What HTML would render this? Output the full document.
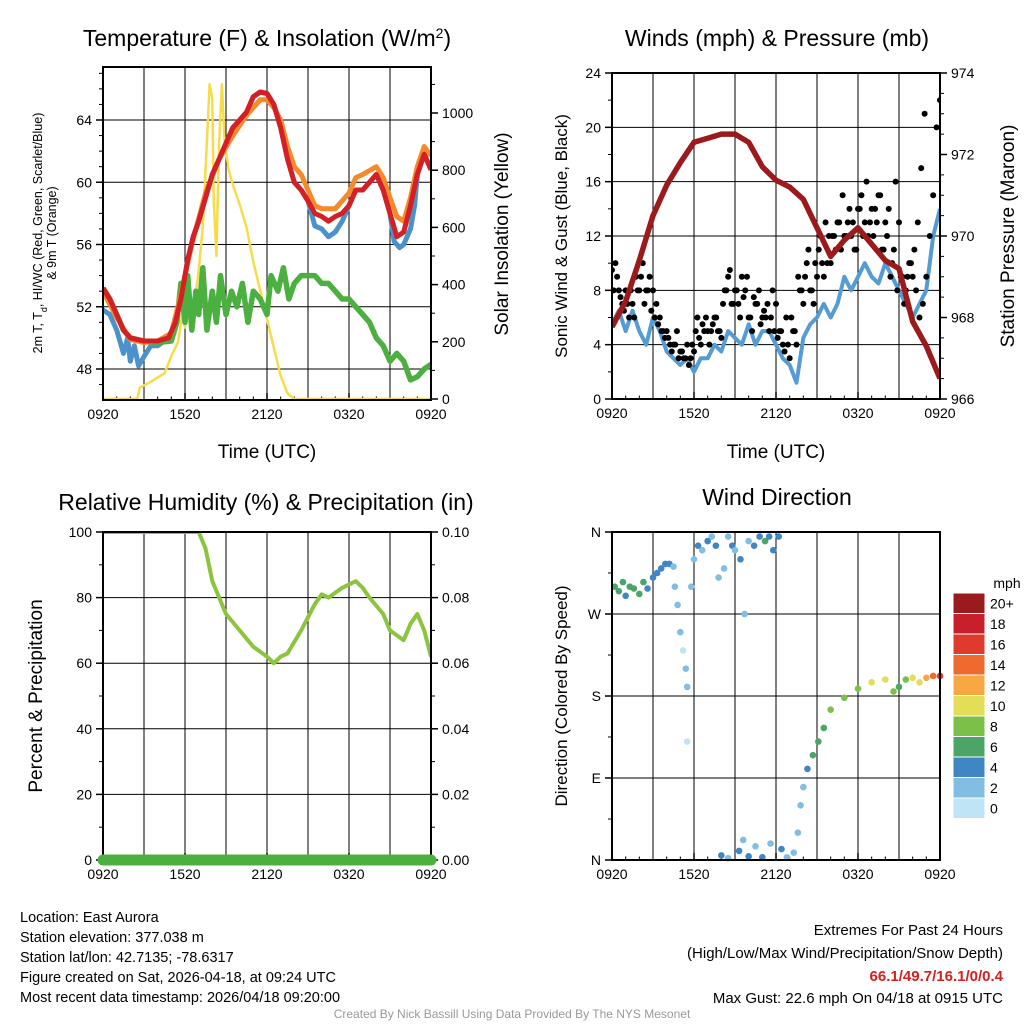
<!DOCTYPE html>
<html><head><meta charset="utf-8">
<style>
body{margin:0;background:#fff;}
svg{display:block;font-family:"Liberation Sans",Arial,sans-serif;}
</style></head>
<body>
<svg id="fig" width="1024" height="1024" viewBox="0 0 1024 1024" xmlns="http://www.w3.org/2000/svg">
<rect width="1024" height="1024" fill="#fff"/>
<text x="267" y="46" font-size="23" text-anchor="middle">Temperature (F) &amp; Insolation (W/m<tspan baseline-shift="super" font-size="14">2</tspan>)</text>
<text x="777" y="46" font-size="23" text-anchor="middle">Winds (mph) &amp; Pressure (mb)</text>
<text x="266" y="510" font-size="23" text-anchor="middle">Relative Humidity (%) &amp; Precipitation (in)</text>
<text x="777" y="505" font-size="23" text-anchor="middle">Wind Direction</text>
<text transform="translate(42,233) rotate(-90)" font-size="12.5" text-anchor="middle">2m T, T<tspan baseline-shift="sub" font-size="9">d</tspan>, HI/WC (Red, Green, Scarlet/Blue)</text>
<text transform="translate(56,233) rotate(-90)" font-size="12.5" text-anchor="middle">&amp; 9m T (Orange)</text>
<text transform="translate(508,234) rotate(-90)" font-size="19" text-anchor="middle">Solar Insolation (Yellow)</text>
<text x="267" y="458" font-size="19" text-anchor="middle">Time (UTC)</text>
<text transform="translate(567,236) rotate(-90)" font-size="17" text-anchor="middle">Sonic Wind &amp; Gust (Blue, Black)</text>
<text transform="translate(1014,236) rotate(-90)" font-size="19" text-anchor="middle">Station Pressure (Maroon)</text>
<text x="776" y="458" font-size="19" text-anchor="middle">Time (UTC)</text>
<text transform="translate(42,696) rotate(-90)" font-size="19" text-anchor="middle">Percent &amp; Precipitation</text>
<text transform="translate(567,696) rotate(-90)" font-size="17" text-anchor="middle">Direction (Colored By Speed)</text>
<text x="1007" y="588" font-size="14" text-anchor="middle">mph</text>
<g font-size="14.5">
<text x="20" y="922">Location: East Aurora</text>
<text x="20" y="942">Station elevation: 377.038 m</text>
<text x="20" y="962">Station lat/lon: 42.7135; -78.6317</text>
<text x="20" y="982">Figure created on Sat, 2026-04-18, at 09:24 UTC</text>
<text x="20" y="1002">Most recent data timestamp: 2026/04/18 09:20:00</text>
</g>
<g font-size="15" text-anchor="end">
<text x="1003" y="935">Extremes For Past 24 Hours</text>
<text x="1003" y="958">(High/Low/Max Wind/Precipitation/Snow Depth)</text>
<text x="1003" y="981" fill="#d42020" font-weight="bold">66.1/49.7/16.1/0/0.4</text>
<text x="1003" y="1003">Max Gust: 22.6 mph On 04/18 at 0915 UTC</text>
</g>
<text x="512" y="1018" font-size="12" fill="#999" text-anchor="middle">Created By Nick Bassill Using Data Provided By The NYS Mesonet</text>
</svg>
<script>
const xTickLabels = ["0920","1520","2120","0320","0920"];
const tempTicks = [48,52,56,60,64];
const solarTicks = [0,200,400,600,800,1000];
const windTicks = [0,4,8,12,16,20,24];
const presTicks = [966,968,970,972,974];
const rhTicks = [0,20,40,60,80,100];
const precipTicks = ["0.00","0.02","0.04","0.06","0.08","0.10"];
const dirTickLabels = ["N","E","S","W","N"];
const speedBinLabels = ["0","2","4","6","8","10","12","14","16","18","20+"];
const speedBinColors = ["#bfe4f6","#82bde3","#3f86c2","#4aa566","#7cc04a","#e3dd58","#f8a843","#ee6a2e","#df3a2c","#c7202a","#991b1d"];

const redT = [0,0.5,1,1.5,2,3,4,4.8,5.3,5.7,6.2,6.6,7,7.5,8,8.5,9,9.5,10,10.5,11,11.5,12,12.5,13,13.5,14,14.5,15,15.5,16,16.5,17,17.5,18,18.5,19,19.5,20,20.5,21,21.5,22,22.5,23,23.5,24];
const redV = [53.2,52.5,51.5,50.5,50,49.8,49.8,50,51,52.5,55,56.5,57.5,59,60.5,61.5,62.5,63.5,64,64.5,65.5,65.8,65.7,65,63.5,61.5,60,59.5,58.8,58,57.8,57.5,57.8,58,58.5,59.5,59.5,60,60.5,59.5,58,56.5,56.8,58.5,60.5,61.8,60.8];
const orangeT = [0,1,2,3,4,5,5.7,6.5,7.5,8.5,9.5,10.5,11.5,12,12.5,13,13.5,14,14.5,15,15.5,16,17,18,18.5,19,20,20.5,21,21.5,22,22.5,23,23.5,24];
const orangeV = [53,51.3,49.9,49.7,49.8,50.3,52.8,56,59.3,61.5,63,64.3,65.3,65.3,64.8,64,62.3,61,60.5,59.5,58.5,58.3,58.3,59.3,60.3,60.5,61,60.3,59,57.8,57.5,59,61,62.3,61.7];
const blueT = [0,0.5,1,1.5,1.8,2,2.3,2.6,3,3.5,4,4.5,4.8,5.3,5.7,6.2,6.6,7,7.5,8,8.5,9,9.5,10,10.5,11,11.5,12,12.5,13,13.5,14,14.5,15,15.5,16,16.5,17,17.5,18,18.5,19,19.5,20,20.5,21,21.3,21.7,22,22.5,22.8,23,23.5,24];
const blueV = [51.8,51.5,50.5,49,50,48.5,49.5,48.2,48.8,49.5,49.5,49.8,50,51,52.5,55,56.5,57.5,59,60.5,61.5,62.5,63.5,64,64.5,65.5,65.8,65.7,65,63.5,61.5,60,59.5,58.8,57.2,57,56.5,56.8,57.5,58.5,59.5,59.5,60,60.5,59.5,58,56.2,55.8,56,57,58.5,60.5,61.8,60.8];
const dewT = [0,0.5,1,1.5,2,3,4,5,5.4,5.7,6,6.2,6.5,6.8,7,7.3,7.6,8,8.3,8.6,9,9.4,9.8,10.2,10.6,11,11.5,12,12.3,12.8,13.2,13.6,14,14.5,15,15.5,16,16.5,17,17.5,18,18.5,19,19.5,20,20.5,21,21.5,22,22.5,23,23.5,24];
const dewV = [53.2,52.5,51.5,50.5,50,49.8,49.7,49.8,51,53.5,51,54,50.5,53,51.5,54.5,50.5,53,51,54,51.5,53,52,53.5,51,53,52.5,51.5,54,53,54.5,52.5,53.5,54,54,54,53.5,53.5,53,52.5,52.5,52,51.5,51,50,49.5,48.5,49,48.5,47.3,47.5,48,48.3];
const solarT = [0,2.5,2.7,3.5,4.5,5,5.5,5.8,6,6.3,6.6,7,7.3,7.6,7.8,8,8.1,8.3,8.5,8.7,8.9,9.2,9.5,10,10.5,11,11.5,12,12.5,13,13.5,14,24];
const solarV = [0,0,40,60,90,150,200,300,250,380,300,450,600,900,1100,1050,700,500,900,1100,900,800,750,680,600,480,380,280,180,80,20,0,0];

const presT = [0,1,2,3,4,5,6,7,8,9,10,11,12,13,14,15,16,17,18,19,20,21,22,23,24];
const presV = [967.77,968.4,969.4,970.5,971.25,971.8,972.3,972.4,972.5,972.5,972.3,971.7,971.37,971.2,970.9,970.2,969.5,969.9,970.2,969.8,969.4,969.2,967.9,967.3,966.5];
const windV = [5.5,6.5,5,6.5,5,4,6,5,3.5,3,2.5,3,2,3,3,4,3.5,5,4.5,4,5.5,4,5,5,4,3,2.5,1.2,4.5,5.5,6,7,6,7,9,8,9,10,9,8.5,10,9,8,7,6,7,8,12,14];
const gustV = [9.5,10,8,7,8, 6,7,9,8, 10,8,9,8, 7,6,5,5, 4,4,5,3.5, 3,4,3,3.5, 6,4,5,5, 5,6,5,4.5, 8,9,7,8, 7,9,8,6, 5,7,8,6, 6,5,8,7, 5,4,6,3, 5,4,8,7, 10,8,7,9, 12,9,10,10, 12,13,11,12, 13,12,11,14, 15,13,12,14, 14,15,11,13, 14,10,16,13, 9,8,10,9, 8,6,7,9, 12,15,20,22];
const gustB = [8,9,7.5,6.5, 7,8,6,8, 9,7,8,6.5, 6,5.5,5,4.5, 4.5,3.5,4,3, 3.5,3,2.5,4, 5,4.5,5.5,6, 4,5.5,6,5, 7,8,9.5,7, 8,6,7.5,9, 6,7.5,7,5.5, 6.5,7,6,5, 4.5,5,3.5,4, 6,5,9,8, 9,11,8,10, 11,10,13,12, 12,11,13,15, 12,14,13,11, 14,12,16,13, 12,13,15,11, 12,9,11,8, 9,7,9,10, 11,13,17,21];

const rhT = [0,7,7.5,8,8.5,9,10,11,12,12.5,13,13.5,14.5,15.5,16,16.5,17.5,18.5,19,19.5,20.5,21,22,22.5,23,23.5,24];
const rhV = [100,100,95,85,80,75,70,65,62,60,62,63,70,78,81,80,83,85,83,80,75,70,67,72,75,70,62];
const precipV = [0,0,0,0,0,0,0,0,0,0,0,0,0,0,0,0,0,0,0,0,0,0,0,0,0];

const wdT = [0.2,0.5,0.8,1.0,1.3,1.6,2.0,2.3,2.6,3.0,3.3,3.6,3.9,4.2,4.5,4.6,4.8,5.0,5.2,5.4,5.5,5.8,6.0,6.3,6.6,7.0,7.3,7.6,7.8,8.2,8.5,8.8,9.0,9.4,9.7,10.0,10.4,10.8,11.2,11.5,11.8,12.2,5.5,8.0,8.5,9.3,9.6,10.0,10.5,11.0,11.6,12.4,12.8,13.3,13.6,13.8,14.0,14.3,14.7,15.1,15.5,16.0,17.0,18.0,19.0,20.0,20.6,21.0,21.5,22.0,22.5,23.0,23.5,24.0];
const wdDir = [300,295,305,290,300,298,292,305,298,310,315,320,325,325,322,300,280,250,230,210,190,300,330,345,340,350,355,345,310,320,355,345,340,330,270,350,345,355,350,355,340,355,130,5,2,10,22,4,15,3,18,12,3,8,30,60,80,100,115,130,145,165,178,188,195,198,185,190,198,200,195,200,202,202];
const wdSpd = [6,7,6,5,7,6,6,7,5,4,4,4,5,4,2,2,3,2,1,3,3,3,3,4,2,4,3,4,2,3,2,4,3,4,3,3,5,4,6,4,4,4,0,4,3,4,2,4,2,4,2,4,3,2,2,3,3,4,6,6,7,8,8,9,10,10,8,7,9,10,11,13,15,17];

const NS = "http://www.w3.org/2000/svg";
const svg = document.getElementById("fig");
function mk(tag, attrs, parent){ const e=document.createElementNS(NS,tag); for(const k in attrs) e.setAttribute(k,attrs[k]); (parent||svg).appendChild(e); return e; }
function linScale(d0,d1,r0,r1){ return v => r0 + (v-d0)*(r1-r0)/(d1-d0); }

const P1={x0:103,x1:431,y0:67,y1:400};
const P2={x0:612,x1:940,y0:73,y1:399};
const P3={x0:103,x1:431,y0:532,y1:860};
const P4={x0:612,x1:940,y0:532,y1:860};

function clip(P,id){ const d=mk("clipPath",{id:id}); mk("rect",{x:P.x0,y:P.y0,width:P.x1-P.x0,height:P.y1-P.y0},d); return "url(#"+id+")"; }

function frame(P, name, xs, hGrid, leftTicks, leftMinor, rightTicks, rightMinor){
  const g=mk("g",{});
  
  
  for(let h=3; h<24; h+=3){ const x=xs(h); mk("line",{x1:x,x2:x,y1:P.y0,y2:P.y1,stroke:"#000","stroke-width":1},g); }
  hGrid.forEach(y=>mk("line",{x1:P.x0,x2:P.x1,y1:y,y2:y,stroke:"#000","stroke-width":1},g));
  xTickLabels.forEach((lab,i)=>{ const x=xs(i*6);
    mk("line",{x1:x,x2:x,y1:P.y1,y2:P.y1-7,stroke:"#000","stroke-width":1.5},g);
    const t=mk("text",{x:x,y:P.y1+19,"font-size":14,"text-anchor":"middle"},g); t.textContent=lab; });
  for(let h=1; h<24; h++){ const x=xs(h); mk("line",{x1:x,x2:x,y1:P.y1,y2:P.y1-3.5,stroke:"#000"},g); }
  leftTicks.forEach(([y,lab])=>{ mk("line",{x1:P.x0,x2:P.x0-7,y1:y,y2:y,stroke:"#000","stroke-width":1.5},g);
    const t=mk("text",{x:P.x0-11,y:y+5,"font-size":14,"text-anchor":"end"},g); t.textContent=lab; });
  leftMinor.forEach(y=>mk("line",{x1:P.x0,x2:P.x0-4,y1:y,y2:y,stroke:"#000"},g));
  rightTicks.forEach(([y,lab])=>{ mk("line",{x1:P.x1,x2:P.x1+7,y1:y,y2:y,stroke:"#000","stroke-width":1.5},g);
    const t=mk("text",{x:P.x1+11,y:y+5,"font-size":14},g); t.textContent=lab; });
  rightMinor.forEach(y=>mk("line",{x1:P.x1,x2:P.x1+4,y1:y,y2:y,stroke:"#000"},g));
  return g;
}
function border(P){ mk("rect",{x:P.x0,y:P.y0,width:P.x1-P.x0,height:P.y1-P.y0,fill:"none",stroke:"#000","stroke-width":2}); }
function pathD(T,V,xs,ys){ return T.map((t,i)=>(i?"L":"M")+xs(t).toFixed(1)+","+ys(V[i]).toFixed(1)).join(""); }

// Panel 1
const x1s=linScale(0,24,P1.x0,P1.x1);
const tY=linScale(48,64,369,120);
const sY=linScale(0,1000,399,113);
frame(P1,"temperature",x1s,tempTicks.map(tY),
  tempTicks.map(v=>[tY(v),String(v)]),
  [47,49,50,51,53,54,55,57,58,59,61,62,63,65,66,67].map(tY),
  solarTicks.map(v=>[sY(v),String(v)]),
  [100,300,500,700,900,1100].map(sY));
const c1=clip(P1,"c1");
const g1=mk("g",{"clip-path":c1});
const solarLine=mk("path",{d:pathD(solarT,solarV,x1s,sY),fill:"none",stroke:"#f7dc4a","stroke-width":2.5,"stroke-linejoin":"round"},g1);


const blueLine=mk("path",{d:pathD(blueT,blueV,x1s,tY),fill:"none",stroke:"#4b92cc","stroke-width":5,"stroke-linejoin":"round"},g1);


const dewLine=mk("path",{d:pathD(dewT,dewV,x1s,tY),fill:"none",stroke:"#4cb040","stroke-width":5.5,"stroke-linejoin":"round"},g1);


const orLine=mk("path",{d:pathD(orangeT,orangeV,x1s,tY),fill:"none",stroke:"#f38a2c","stroke-width":5,"stroke-linejoin":"round"},g1);


const redLine=mk("path",{d:pathD(redT,redV,x1s,tY),fill:"none",stroke:"#d42025","stroke-width":5,"stroke-linejoin":"round"},g1);


border(P1);

// Panel 2
const x2s=linScale(0,24,P2.x0,P2.x1);
const wY=linScale(0,24,P2.y1,P2.y0);
const pY=linScale(966,974,P2.y1,P2.y0);
frame(P2,"winds",x2s,windTicks.slice(1,-1).map(wY),
  windTicks.map(v=>[wY(v),String(v)]),
  [2,6,10,14,18,22].map(wY),
  presTicks.map(v=>[pY(v),String(v)]),
  [966.5,967,967.5,968.5,969,969.5,970.5,971,971.5,972.5,973,973.5].map(pY));
const c2=clip(P2,"c2");
const g2=mk("g",{"clip-path":c2});
const windT=windV.map((v,i)=>i*0.5);
const windLine=mk("path",{d:pathD(windT,windV,x2s,wY),fill:"none",stroke:"#559bd4","stroke-width":4,"stroke-linejoin":"round"},g2);


gustV.forEach((v,i)=>{
  const c=mk("circle",{cx:x2s(i*0.25),cy:wY(v),r:3,fill:"#000"},g2);
  
  
});
gustB.forEach((v,i)=>{
  const c=mk("circle",{cx:x2s(i*0.25+0.125),cy:wY(v),r:3,fill:"#000"},g2);
  
  
});
const presLine=mk("path",{d:pathD(presT,presV,x2s,pY),fill:"none",stroke:"#9c1a1c","stroke-width":5.5,"stroke-linejoin":"round"},g2);


border(P2);

// Panel 3
const x3s=linScale(0,24,P3.x0,P3.x1);
const rY=linScale(0,100,P3.y1,P3.y0);
const prY=linScale(0,0.10,P3.y1,P3.y0);
frame(P3,"humidity",x3s,rhTicks.slice(1,-1).map(rY),
  rhTicks.map(v=>[rY(v),String(v)]),
  [10,30,50,70,90].map(rY),
  precipTicks.map(v=>[prY(parseFloat(v)),v]),
  [0.01,0.03,0.05,0.07,0.09].map(prY));
const c3=clip(P3,"c3");
const g3=mk("g",{"clip-path":c3});
const rhLine=mk("path",{d:pathD(rhT,rhV,x3s,rY),fill:"none",stroke:"#8cc43e","stroke-width":4,"stroke-linejoin":"round"},g3);


border(P3);
const precipT=precipV.map((v,i)=>i);
const precipLine=mk("path",{d:pathD(precipT,precipV,x3s,prY),fill:"none",stroke:"#4cb040","stroke-width":11,"stroke-linecap":"round"});



// Panel 4
const x4s=linScale(0,24,P4.x0,P4.x1);
const dY=linScale(0,360,P4.y1,P4.y0);
frame(P4,"wind-direction",x4s,[90,180,270].map(dY),
  dirTickLabels.map((l,i)=>[dY(i*90),l]),
  [45,135,225,315].map(dY),[],[]);
const g4=mk("g",{});
function binColor(s){ return speedBinColors[Math.max(0,Math.min(10,Math.floor(s/2)))]; }
wdT.forEach((t,i)=>{
  const c=mk("circle",{cx:x4s(t),cy:dY(wdDir[i]),r:3.3,fill:binColor(wdSpd[i])},g4);
  
  
});
border(P4);

const cbTop=593, cbH=20.5;
for(let i=0;i<11;i++){
  const y=cbTop+(10-i)*cbH;
  const r=mk("rect",{x:953,y:y,width:32,height:cbH,fill:speedBinColors[i],stroke:"#fff","stroke-width":1});
  
  
  const t=mk("text",{x:990,y:y+cbH/2+5,"font-size":14});
  t.textContent=speedBinLabels[i];
  
  
}
</script>
</body></html>
